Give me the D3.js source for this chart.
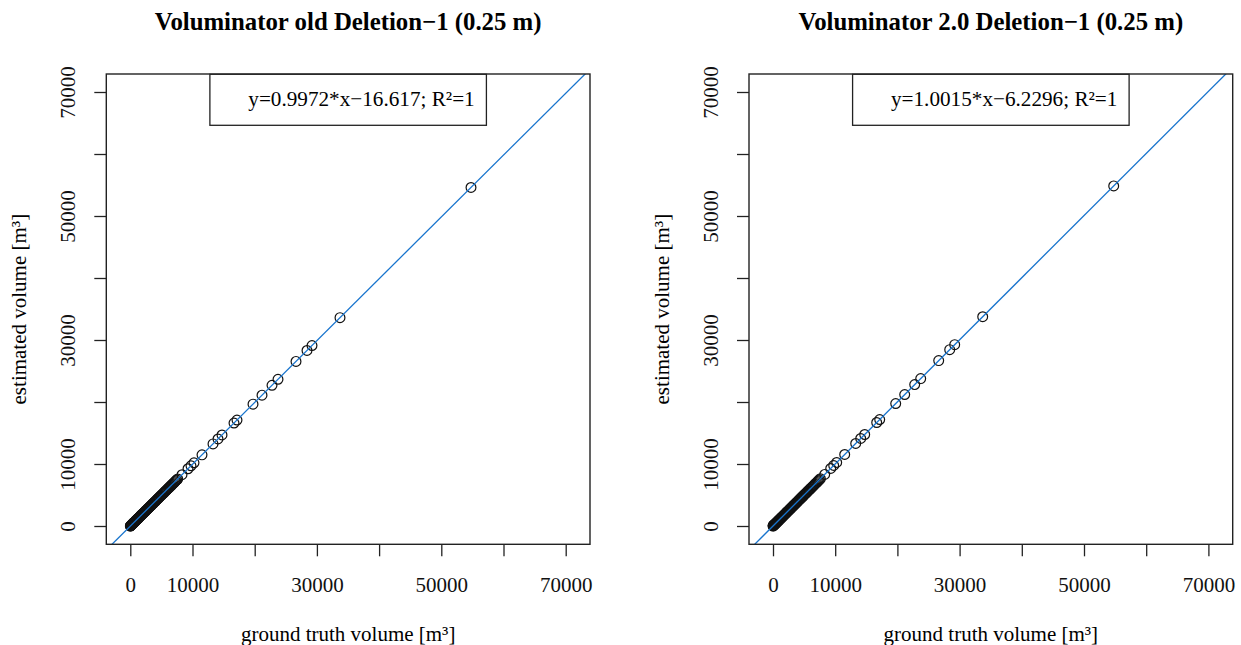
<!DOCTYPE html>
<html>
<head>
<meta charset="utf-8">
<script src="https://cdn.jsdelivr.net/npm/d3@7"></script>
<style>
  body { margin: 0; background: #fff; }
  svg text { font-family: 'Liberation Serif', 'Times New Roman', serif; }
</style>
</head>
<body>
<div id="chart"></div>
<script>
// --- data ---
const titles = ["Voluminator old Deletion\u22121 (0.25 m)", "Voluminator 2.0 Deletion\u22121 (0.25 m)"];
const fitSlope = [0.9972, 1.0015];
const fitIntercept = [-16.617, -6.2296];
const fitR2 = [1, 1];

const tickValues = [0, 10000, 20000, 30000, 40000, 50000, 60000, 70000];
const tickLabels = [0, 10000, 30000, 50000, 70000];

const groundTruth = [
  5, 28, 54, 90, 131, 170, 214, 262, 305, 351, 402, 455, 508, 566, 622, 684, 741, 805, 868, 930,
  997, 1063, 1131, 1202, 1270, 1344, 1418, 1490, 1567, 1645, 1722, 1803, 1885, 1966, 2050, 2136,
  2221, 2310, 2398, 2490, 2581, 2675, 2770, 2866, 2963, 3062, 3160, 3264, 3366, 3470, 3577, 3684,
  3793, 3903, 4015, 4128, 4243, 4359, 4476, 4595, 4716, 4838, 4961, 5086, 5212, 5340, 5470, 5601,
  5733, 5868, 6004, 6142, 6281, 6423, 6566, 6710, 6857, 7005, 7156, 7309, 7464, 7621,
  8312, 9277, 9759, 10241, 11527, 13296, 14100, 14743, 16672, 17154, 19727, 21174, 22781, 23746,
  26640, 28408, 29212, 33714, 54775
];
const estimatedOld = [
  -12, 11, 38, 72, 114, 152, 198, 244, 289, 333, 385, 436, 491, 547, 605, 665, 723, 785, 850, 910,
  979, 1042, 1112, 1181, 1251, 1323, 1398, 1468, 1547, 1623, 1701, 1780, 1864, 1943, 2029, 2112,
  2199, 2286, 2376, 2465, 2558, 2650, 2747, 2840, 2939, 3036, 3135, 3237, 3341, 3443, 3551, 3656,
  3767, 3874, 3988, 4099, 4215, 4329, 4448, 4565, 4687, 4807, 4931, 5054, 5182, 5307, 5439, 5567,
  5701, 5834, 5971, 6107, 6248, 6387, 6532, 6674, 6822, 6968, 7120, 7271, 7427, 7582,
  8270, 9236, 9713, 10198, 11476, 13244, 14041, 14688, 16607, 17092, 19652, 21101, 22697, 23666,
  26545, 28315, 29110, 33606, 54600
];
const estimatedNew = [
  -1, 22, 49, 83, 125, 165, 207, 257, 298, 346, 395, 450, 502, 562, 616, 680, 735, 801, 862, 926,
  991, 1059, 1126, 1199, 1265, 1341, 1413, 1487, 1562, 1642, 1717, 1801, 1881, 1964, 2046, 2134,
  2217, 2308, 2394, 2489, 2578, 2674, 2767, 2865, 2960, 3061, 3158, 3264, 3364, 3470, 3575, 3684,
  3792, 3904, 4014, 4129, 4242, 4361, 4476, 4597, 4716, 4840, 4961, 5088, 5213, 5343, 5471, 5604,
  5735, 5872, 6006, 6146, 6283, 6428, 6569, 6715, 6860, 7010, 7160, 7315, 7468, 7627,
  8319, 9284, 9769, 10249, 11539, 13309, 14116, 14758, 16692, 17173, 19751, 21199, 22810, 23774,
  26675, 28444, 29251, 33757, 54851
];
const estimates = [estimatedOld, estimatedNew];

// --- layout ---
const width = 1241, height = 645;
const panelShift = 642.7;
const box = { left: 106.3, right: 590, top: 74, bottom: 544.3 };
const tickLen = 12;
const serif = "'Liberation Serif', 'Times New Roman', serif";

const svg = d3.select("#chart").append("svg")
  .attr("width", width)
  .attr("height", height)
  .attr("font-family", serif);

const drawPanel = (i) => {
  const off = i * panelShift;
  const g = svg.append("g").attr("transform", `translate(${off},0)`);

  const x = d3.scaleLinear().domain([0, 70000]).range([130.3, 565.7]);
  const y = d3.scaleLinear().domain([0, 70000]).range([526, 92]);
  const cx = (box.left + box.right) / 2;

  // title
  g.append("text")
    .attr("x", cx).attr("y", 30)
    .attr("text-anchor", "middle")
    .attr("font-family", serif)
    .attr("font-weight", "bold")
    .attr("font-size", 24.8)
    .text(titles[i]);

  // clip
  g.append("clipPath").attr("id", "clip" + i)
    .append("rect")
    .attr("x", box.left).attr("y", box.top)
    .attr("width", box.right - box.left).attr("height", box.bottom - box.top);

  // points
  const pts = groundTruth.map((d, k) => ({ gt: d, est: estimates[i][k] }));
  g.append("g").attr("clip-path", `url(#clip${i})`)
    .selectAll("circle").data(pts).enter().append("circle")
    .attr("cx", (d) => x(d.gt))
    .attr("cy", (d) => y(d.est))
    .attr("r", 4.9)
    .attr("fill", "none")
    .attr("stroke", "#111")
    .attr("stroke-width", 1.2);

  // regression line
  const x0 = x.invert(box.left), x1 = x.invert(box.right);
  g.append("line")
    .attr("clip-path", `url(#clip${i})`)
    .attr("x1", x(x0)).attr("y1", y(fitSlope[i] * x0 + fitIntercept[i]))
    .attr("x2", x(x1)).attr("y2", y(fitSlope[i] * x1 + fitIntercept[i]))
    .attr("stroke", "#1874cd")
    .attr("stroke-width", 1.3);

  // axes
  const fmt = (d) => (tickLabels.includes(d) ? String(d) : "");
  const xAxis = d3.axisBottom(x).tickValues(tickValues).tickSize(tickLen).tickFormat(fmt);
  const xg = g.append("g").attr("transform", `translate(0,${box.bottom})`).call(xAxis);
  xg.attr("font-family", serif);
  xg.select(".domain").remove();
  xg.selectAll(".tick line").attr("stroke", "#222").attr("stroke-width", 1.3);
  xg.selectAll(".tick text")
    .attr("y", 48).attr("dy", 0)
    .attr("fill", "#111")
    .attr("font-size", 21);

  const yAxis = d3.axisLeft(y).tickValues(tickValues).tickSize(tickLen).tickFormat(fmt);
  const yg = g.append("g").attr("transform", `translate(${box.left},0)`).call(yAxis);
  yg.attr("font-family", serif);
  yg.select(".domain").remove();
  yg.selectAll(".tick line").attr("stroke", "#222").attr("stroke-width", 1.3);
  yg.selectAll(".tick text")
    .attr("x", null).attr("dy", 0)
    .attr("transform", "translate(-31,0) rotate(-90)")
    .attr("text-anchor", "middle")
    .attr("fill", "#111")
    .attr("font-size", 21);

  // box
  g.append("rect")
    .attr("x", box.left).attr("y", box.top)
    .attr("width", box.right - box.left).attr("height", box.bottom - box.top)
    .attr("fill", "none")
    .attr("stroke", "#222")
    .attr("stroke-width", 1.4);

  // axis titles
  g.append("text")
    .attr("x", cx).attr("y", 641)
    .attr("text-anchor", "middle")
    .attr("font-family", serif)
    .attr("font-size", 21)
    .text("ground truth volume [m\u00b3]");
  g.append("text")
    .attr("transform", `translate(26,${(box.top + box.bottom) / 2}) rotate(-90)`)
    .attr("text-anchor", "middle")
    .attr("font-family", serif)
    .attr("font-size", 21)
    .text("estimated volume [m\u00b3]");

  // legend at top
  const sign = fitIntercept[i] < 0 ? "\u2212" : "+";
  const label = `y=${fitSlope[i]}*x${sign}${Math.abs(fitIntercept[i])}; R\u00b2=${fitR2[i]}`;
  const lg = g.append("g");
  const lrect = lg.append("rect");
  const ltext = lg.append("text")
    .attr("y", 106)
    .attr("font-family", serif)
    .attr("font-size", 21.2)
    .text(label);
  const tw = ltext.node().getComputedTextLength();
  const bw = tw + 38.4 + 11.7;
  const bx = cx - bw / 2;
  ltext.attr("x", bx + 38.4);
  lrect.attr("x", bx).attr("y", 74.3)
    .attr("width", bw).attr("height", 51)
    .attr("fill", "#fff")
    .attr("stroke", "#222")
    .attr("stroke-width", 1.3);
};

[0, 1].forEach(drawPanel);
</script>
</body>
</html>
